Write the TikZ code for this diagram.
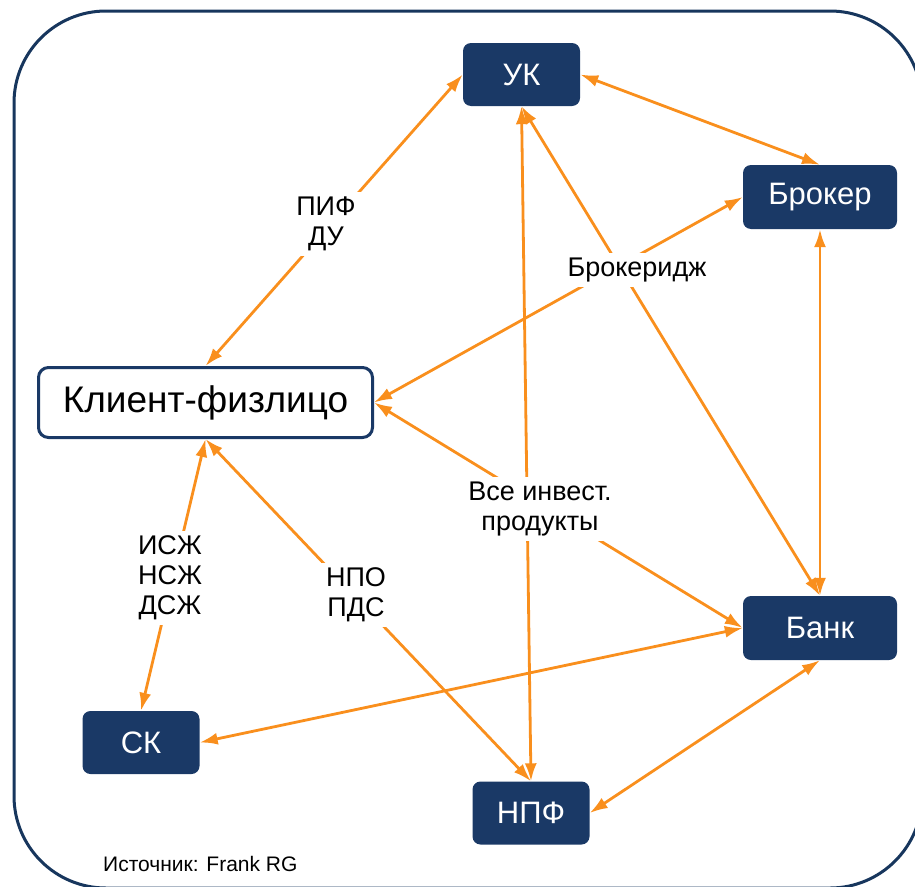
\documentclass[tikz,border=0pt]{standalone}
\usepackage{fontspec}
\setmainfont{Liberation Sans}
\usetikzlibrary{arrows.meta}
\definecolor{navy}{HTML}{1A3966}
\definecolor{framec}{HTML}{17365D}
\definecolor{orng}{HTML}{F98F1D}
\begin{document}
\begin{tikzpicture}[x=1pt,y=-1pt,
  box/.style={fill=navy, text=white, rounded corners=8pt, inner sep=0pt,
    minimum width=117pt, minimum height=63pt, font=\fontsize{31}{31}\selectfont},
  widebox/.style={box, minimum width=154pt, minimum height=64pt},
  client/.style={draw=navy, line width=3pt, fill=white, rounded corners=10pt,
    minimum width=334pt, minimum height=70pt, inner sep=0pt,
    font=\fontsize{37}{37}\selectfont},
  conn/.style={draw=orng, line width=2.8pt,
    {Latex[length=18pt,width=12pt]}-{Latex[length=18pt,width=12pt]}},
  lbl/.style={fill=white, inner sep=5pt, align=center,
    font=\fontsize{27}{30}\selectfont}
]
\useasboundingbox (0,0) rectangle (915,886);
\draw[framec, line width=3pt, rounded corners=92pt] (14,11) rectangle (922,888);

\node[box] (uk) at (521.5,74.5) {УК};
\node[widebox] (brok) at (820,197) {Брокер};
\node[client] (cl) at (205.5,402.5) {Клиент-физлицо};
\node[widebox] (bank) at (820,628) {Банк};
\node[box] (sk) at (141,742.5) {СК};
\node[box] (npf) at (531,813) {НПФ};

\draw[conn] (cl.north) -- (uk.west);
\draw[conn] (uk.east) -- (brok.north);
\draw[conn] (brok.west) -- (cl.east);
\draw[conn] (brok.south) -- (bank.north);
\draw[conn] (uk.south) -- (bank.north);
\draw[conn] (uk.south) -- (npf.north);
\draw[conn] (cl.east) -- (bank.west);
\draw[conn] (bank.west) -- (sk.east);
\draw[conn] (bank.south) -- (npf.east);
\draw[conn] (cl.south) -- (sk.north);
\draw[conn] (cl.south) -- (npf.north);

\node[lbl] (pif) at (326,224) {ПИФ\\ДУ};
\node[lbl] (brkg) at (637,270) {Брокеридж};
\node[lbl] (vse) at (540,509) {Все инвест.\\продукты};
\node[lbl] (isz) at (170,578) {ИСЖ\\НСЖ\\ДСЖ};
\node[lbl] (npo) at (356,595) {НПО\\ПДС};

\node[anchor=west, inner sep=0pt, font=\fontsize{21}{21}\selectfont] (src) at (103,864) {Источник: Frank RG};
\end{tikzpicture}
\end{document}
